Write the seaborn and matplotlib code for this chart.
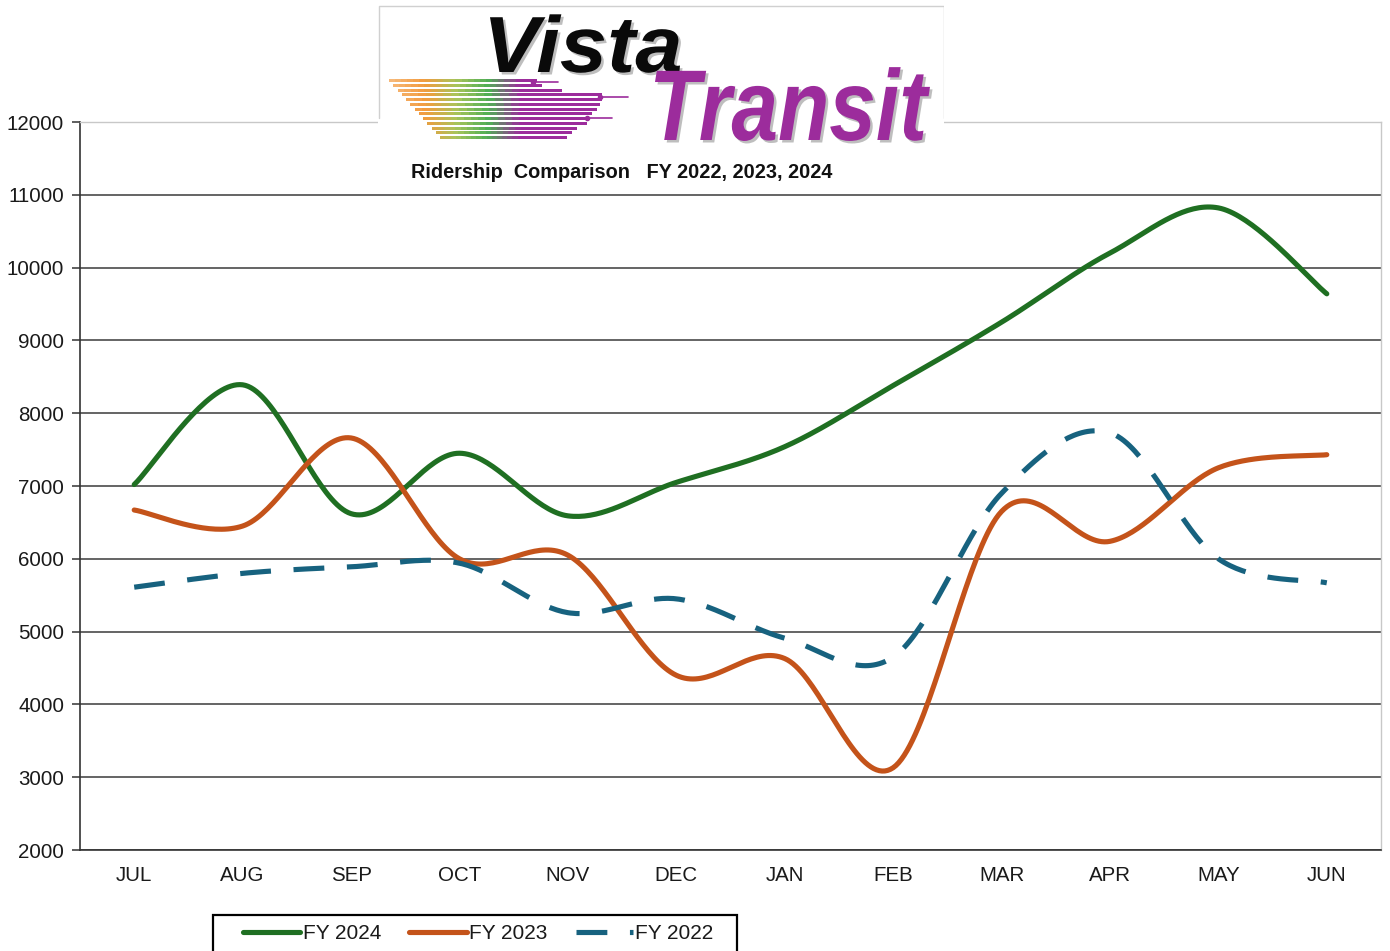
import numpy as np
import seaborn as sns
import matplotlib.pyplot as plt
from matplotlib.collections import LineCollection
from matplotlib.colors import LinearSegmentedColormap
from matplotlib.patches import Rectangle, PathPatch
from matplotlib.textpath import TextPath
from matplotlib.font_manager import FontProperties
from matplotlib.transforms import Affine2D

# Monthly ridership
months = ['JUL', 'AUG', 'SEP', 'OCT', 'NOV', 'DEC', 'JAN', 'FEB', 'MAR', 'APR', 'MAY', 'JUN']
fy2024 = [7020, 8390, 6620, 7450, 6590, 7050, 7540, 8380, 9250, 10200, 10820, 9640]
fy2023 = [6670, 6450, 7660, 6000, 6050, 4400, 4630, 3130, 6650, 6240, 7250, 7430]
fy2022 = [5610, 5800, 5890, 5940, 5260, 5450, 4910, 4650, 6900, 7730, 6000, 5670]

series_names = ['FY 2024', 'FY 2023', 'FY 2022']
series_colors = ['#1f6f22', '#c4531a', '#17627f']


def smooth(values, n=40):
    # Excel-style smoothed line: cubic Bezier through every point (Catmull-Rom tangents)
    pts = np.column_stack([np.arange(len(values), dtype=float), np.asarray(values, float)])
    ext = np.vstack([pts[0], pts, pts[-1]])
    t = np.linspace(0, 1, n)[:, None]
    out = []
    for i in range(len(pts) - 1):
        p0, p1, p2, p3 = ext[i], ext[i + 1], ext[i + 2], ext[i + 3]
        b1 = p1 + (p2 - p0) / 6
        b2 = p2 - (p3 - p1) / 6
        seg = (1 - t) ** 3 * p1 + 3 * (1 - t) ** 2 * t * b1 + 3 * (1 - t) * t ** 2 * b2 + t ** 3 * p2
        out.append(seg if i == 0 else seg[1:])
    out = np.vstack(out)
    return out[:, 0], out[:, 1]


def logo_word(axl, word, x, y, cap, width, color):
    # word drawn as a path so it can be squeezed horizontally (pixel coords, y down)
    fp = FontProperties(family='Liberation Sans', weight='bold', style='italic')
    tp = TextPath((0, 0), word, size=cap / 0.716, prop=fp)
    ext = tp.get_extents()
    sx = width / ext.width
    for dx, dy, fc, a, z in [(2.5, 2.5, '#8a8a8a', 0.55, 2.5), (0, 0, color, 1.0, 3)]:
        tr = Affine2D().translate(-ext.x0, 0).scale(sx, -1).translate(x + dx, y + dy)
        axl.add_patch(PathPatch(tr.transform_path(tp), facecolor=fc, edgecolor='none', alpha=a, zorder=z))


sns.set_style('white')
plt.rcParams['font.family'] = ['Liberation Sans', 'DejaVu Sans']

W, H = 1390, 951
fig = plt.figure(figsize=(W / 100, H / 100), dpi=100)
ax = fig.add_axes([80 / W, 101 / H, 1301 / W, 728 / H])

styles = ['-', '-', (0, (6, 4.4))]
for vals, name, col, ls in zip([fy2024, fy2023, fy2022], series_names, series_colors, styles):
    sx, sy = smooth(vals)
    sns.lineplot(x=sx, y=sy, sort=False, estimator=None, ax=ax, color=col, lw=3.7,
                 linestyle=ls, label=name, solid_capstyle='round', dash_capstyle='butt', zorder=3)

ax.set_xlim(-0.5, 11.5)
ax.set_ylim(2000, 12000)
ax.set_yticks(range(2000, 12001, 1000))
ax.set_xticks(range(len(months)))
ax.set_xticklabels(months)
ax.set_xticks(np.arange(-0.5, 12, 1), minor=True)
ax.tick_params(axis='x', which='major', length=0, pad=11.5, labelsize=14.8, colors='#1a1a1a')
ax.tick_params(axis='x', which='minor', length=8, width=1.1, color='#333333', direction='out')
ax.tick_params(axis='y', length=6, width=1.1, color='#333333', pad=5.5, labelsize=14.8,
               labelcolor='#1a1a1a', left=True)
ax.set_xlabel('')
ax.set_ylabel('')

ax.yaxis.grid(True, color='#3a3a3a', lw=1.1)
ax.get_ygridlines()[-1].set_visible(False)
ax.set_axisbelow(True)
for side in ['left', 'bottom']:
    ax.spines[side].set_color('#333333')
    ax.spines[side].set_linewidth(1.2)
for side in ['top', 'right']:
    ax.spines[side].set_color('#c8c8c8')
    ax.spines[side].set_linewidth(1.0)

# legend in a box that runs off the bottom edge
leg = ax.legend(loc='upper left', bbox_to_anchor=(243 / W, 1 - 924 / H), bbox_transform=fig.transFigure,
                ncol=3, frameon=False, fontsize=15, handlelength=2.75, handletextpad=0.12,
                columnspacing=1.35, borderpad=0, borderaxespad=0)
for t in leg.get_texts():
    t.set_color('#1a1a1a')
fig.patches.append(Rectangle((213 / W, -0.02), (737 - 213) / W, 1 - 915 / H + 0.02,
                             transform=fig.transFigure, fill=False, edgecolor='black', lw=1.6))

fig.text(622 / W, 1 - 173 / H, 'Ridership  Comparison   FY 2022, 2023, 2024',
         fontsize=14.3, fontweight='bold', ha='center', va='center', color='#111111')

# logo block (pixel coordinates inside its own axes)
lax = fig.add_axes([378 / W, 1 - 145 / H, 566 / W, 140 / H])
lax.set_xlim(378, 944)
lax.set_ylim(145, 5)
lax.axis('off')
lax.add_patch(Rectangle((378, 5), 566, 140, facecolor='white', edgecolor='none', zorder=0))
lax.plot([378.5, 378.5, 943.5, 943.5], [118, 5.5, 5.5, 118], color='#d0d0d0', lw=1, zorder=1)

cmap = LinearSegmentedColormap.from_list('streak', ['#f6b878', '#f29a3e', '#a8c45a', '#4fae55', '#9c2c9c', '#9c2c9c'])
streak_y = np.linspace(80, 137, 13)
streak_end = [535, 540, 560, 600, 600, 598, 595, 590, 588, 585, 575, 570, 565]
for yy, xe in zip(streak_y, streak_end):
    xs0 = 390 + (yy - 80) * 0.9
    xs = np.linspace(xs0, xe, 25)
    segs = np.stack([np.column_stack([xs[:-1], np.full(24, yy)]), np.column_stack([xs[1:], np.full(24, yy)])], axis=1)
    lc = LineCollection(segs, colors=cmap(np.clip((xs[:-1] - 390) / 160, 0, 1)), lw=1.8,
                        capstyle='projecting', antialiased=False, zorder=2)
    lax.add_collection(lc)
for x0, x1, yy in [(533, 558, 82), (600, 628, 97), (587, 612, 118)]:
    lax.plot([x0, x1], [yy, yy], color='#9c2c9c', lw=1.2, zorder=2)
    lax.plot([x0], [yy], marker='o', ms=3, color='#9c2c9c', zorder=2)

logo_word(lax, 'Vista', 490, 72, 57, 190, '#0a0a0a')
logo_word(lax, 'Transit', 655, 140, 72, 275, '#9c2c9c')

fig.savefig('out.png', dpi=100)
